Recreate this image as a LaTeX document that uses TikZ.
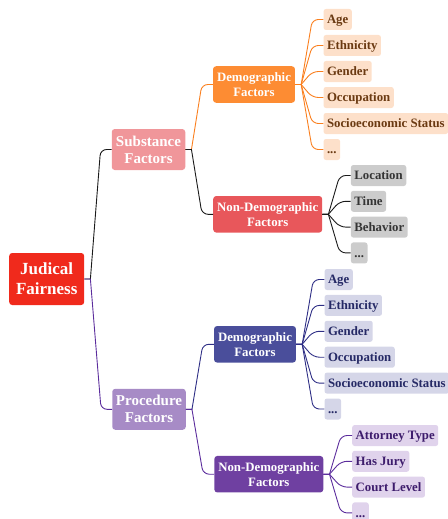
\documentclass[tikz,border=0pt]{standalone}
\usepackage{fontspec}
\setmainfont{Liberation Serif}
\usepackage{tikz}
\usetikzlibrary{positioning}
\definecolor{rootred}{HTML}{F02A1C}
\definecolor{subpink}{HTML}{F0969A}
\definecolor{procpurple}{HTML}{A78BC6}
\definecolor{demoorange}{HTML}{FD8C33}
\definecolor{nondemored}{HTML}{E8575B}
\definecolor{demoblue}{HTML}{4A4E9B}
\definecolor{nondemopurple}{HTML}{6F40A1}
\definecolor{orangeleaf}{HTML}{FDE0CA}
\definecolor{grayleaf}{HTML}{CCCCCC}
\definecolor{blueleaf}{HTML}{D5D6E8}
\definecolor{purpleleaf}{HTML}{E0D3EC}
\definecolor{orangetext}{HTML}{6B3A12}
\definecolor{graytext}{HTML}{353535}
\definecolor{bluetext}{HTML}{262A66}
\definecolor{purpletext}{HTML}{3D1C6C}
\definecolor{orangeline}{HTML}{FA7F1E}
\definecolor{blackline}{HTML}{1A1A1A}
\definecolor{navyline}{HTML}{2E2E85}
\definecolor{purpleline}{HTML}{5B2C9C}
\tikzset{rootbox/.style={rounded corners=3pt,fill=rootred,text=white,align=center,
        font=\fontsize{17}{20}\selectfont\bfseries,minimum width=75,minimum height=52,inner sep=0},
    mainbox/.style={rounded corners=3pt,text=white,align=center,
        font=\fontsize{15}{17}\selectfont\bfseries,minimum width=73.5,minimum height=41,inner sep=0},
    subbox/.style={rounded corners=3pt,text=white,align=center,
        font=\fontsize{12.8}{15}\selectfont\bfseries,minimum height=36.5,inner xsep=4,inner ysep=0},
    leafbox/.style={rounded corners=2.5pt,anchor=west,font=\fontsize{12.8}{15}\selectfont\bfseries,
        minimum height=21,inner xsep=3.5,inner ysep=0,text height=11.5,text depth=3},
    twig/.style={line width=0.9pt}}

\begin{document}
\begin{tikzpicture}[x=1pt,y=-1pt]

\useasboundingbox (0,0) rectangle (447,519);

\newcommand\demolabel[1]
{%
    \ifcase#1 Age%
    \or Ethnicity%
    \or Gender%
    \or Occupation%
    \or Socioeconomic Status%
    \or ...%
    \fi
}
\newcommand\placelabel[1]
{%
    \ifcase#1 Location%
    \or Time%
    \or Behavior%
    \or ...%
    \fi
}
\newcommand\courtlabel[1]
{%
    \ifcase#1 Attorney Type%
    \or Has Jury%
    \or Court Level%
    \or ...%
    \fi
}
\newcommand\linkto[3]
{
    \draw [twig,#1] (#2.east) -- ++(6,0) [rounded corners=6pt] -- ([xshift=-11pt]#3.west) -- (#3.west);
}

\node (root) [rootbox] at (46.7,279) {Judical\\Fairness};

\node (sub) [mainbox,fill=subpink] at (148.5,149.5) {Substance\\Factors};
\node (proc) [mainbox,fill=procpurple] at (149,409.3) {Procedure\\Factors};

\node (od) [subbox,fill=demoorange] at (254,84.5) {Demographic\\Factors};
\node (gn) [subbox,fill=nondemored] at (267.7,214.3) {Non-Demographic\\Factors};
\node (bd) [subbox,fill=demoblue] at (255,344.3) {Demographic\\Factors};
\node (pn) [subbox,fill=nondemopurple] at (268.8,474.2) {Non-Demographic\\Factors};

\linkto{blackline}{root}{sub}
\linkto{purpleline}{root}{proc}
\linkto{orangeline}{sub}{od}
\linkto{blackline}{sub}{gn}
\linkto{navyline}{proc}{bd}
\linkto{purpleline}{proc}{pn}

\foreach \k [evaluate=\k as \oy using 19.5+26*\k,
             evaluate=\k as \by using 279.5+25.9*\k] in {0,...,5}
{
    \node (od\k) [leafbox,fill=orangeleaf,text=orangetext] at (323.3,\oy) {\demolabel{\k}};
    \node (bd\k) [leafbox,fill=blueleaf,text=bluetext] at (324.3,\by) {\demolabel{\k}};
    \linkto{orangeline}{od}{od\k}
    \linkto{navyline}{bd}{bd\k}
}

\foreach \k [evaluate=\k as \gy using 175.5+25.8*\k,
             evaluate=\k as \py using 435.5+25.8*\k] in {0,...,3}
{
    \node (gn\k) [leafbox,fill=grayleaf,text=graytext] at (350.7,\gy) {\placelabel{\k}};
    \node (pn\k) [leafbox,fill=purpleleaf,text=purpletext] at (352,\py) {\courtlabel{\k}};
    \linkto{blackline}{gn}{gn\k}
    \linkto{purpleline}{pn}{pn\k}
}

\end{tikzpicture}
\end{document}
